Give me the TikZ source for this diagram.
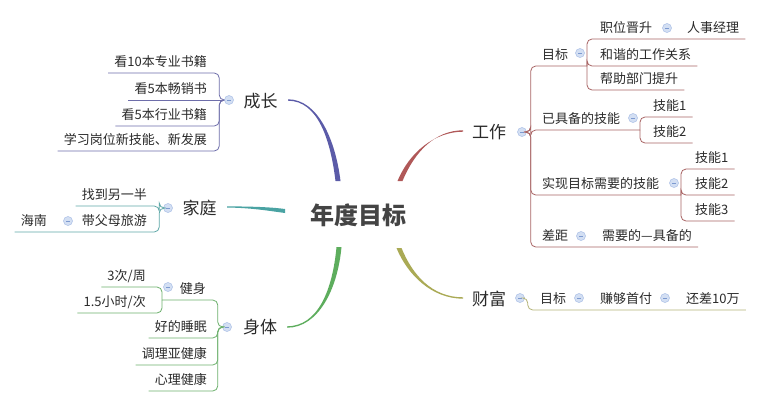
\documentclass[tikz,border=0pt]{standalone}
\usepackage{fontspec}
\setmainfont{Noto Sans CJK SC}
\definecolor{cP}{HTML}{5B5BA8}
\definecolor{cR}{HTML}{B05858}
\definecolor{cT}{HTML}{4AA3A3}
\definecolor{cG}{HTML}{5DAD5D}
\definecolor{cO}{HTML}{AAAA55}
\definecolor{lP}{HTML}{6E6EAA}
\definecolor{lR}{HTML}{A86464}
\definecolor{lT}{HTML}{5FA8A8}
\definecolor{lG}{HTML}{6CB06C}
\definecolor{lO}{HTML}{B4B478}
\definecolor{foldf}{HTML}{D3DFF3}
\definecolor{foldb}{HTML}{A9BFE6}
\definecolor{foldm}{HTML}{7D9AD0}
\definecolor{txt}{HTML}{2A2A2A}
\definecolor{rootc}{HTML}{444444}
\begin{document}
\begin{tikzpicture}[x=1pt,y=-1pt,
  leafL/.style={anchor=south east, inner xsep=6pt, inner ysep=0pt, text depth=6pt, font=\fontsize{13pt}{15pt}\selectfont, text=txt},
  leafR/.style={leafL, anchor=south west},
  topic/.style={anchor=base, inner sep=0pt, font=\fontsize{17pt}{20pt}\selectfont, text=txt},
  rootn/.style={anchor=base, inner sep=0pt, font=\fontsize{24pt}{28pt}\selectfont\bfseries, text=rootc},
  fold/.style={circle, draw=foldb, fill=foldf, line width=0.5pt, minimum size=9pt, inner sep=0pt,
    path picture={\draw[foldm, line width=0.9pt] (path picture bounding box.west) ++(2.5pt,0) -- ++(4pt,0);}},
  br/.style={line width=0.8pt, rounded corners=5pt},
]
\fill[white] (0,0) rectangle (763,407);
\useasboundingbox (0,0) rectangle (763,407);

% root and topics
\node[rootn] (root) at (358.5,224) {年度目标};
\node[topic] (cz) at (260.5,107.4) {成长};
\node[topic] (jt) at (199.5,214.4) {家庭};
\node[topic] (st) at (260,333.4) {身体};
\node[topic] (gz) at (489,138.4) {工作};
\node[topic] (cf) at (489,305.4) {财富};

% tapered main branches
\coordinate (czA) at (288,100);  \coordinate (czB) at (338,181);
\coordinate (gzA) at (463,131);  \coordinate (gzB) at (400,181);
\coordinate (jtA) at (227,207);  \coordinate (jtB) at (285,211);
\coordinate (stA) at (287,327);  \coordinate (stB) at (339,247);
\coordinate (cfA) at (463,298);  \coordinate (cfB) at (399,248);
\fill[cP] ([yshift=0.7pt]czA) .. controls (318,99.3) and (335.5,140) .. ([xshift=2.5pt]czB) -- ([xshift=-2.5pt]czB) .. controls (330.5,140) and (318,100.7) .. ([yshift=-0.7pt]czA) -- cycle;
\fill[cR] ([yshift=0.7pt]gzA) .. controls (435,130.3) and (414.5,152) .. ([xshift=2.5pt]gzB) -- ([xshift=-2.5pt]gzB) .. controls (409.5,152) and (435,131.7) .. ([yshift=-0.7pt]gzA) -- cycle;
\fill[cT] ([yshift=0.6pt]jtA) .. controls (250,206.4) and (270,207) .. ([yshift=2pt]jtB) -- ([yshift=-2pt]jtB) .. controls (270,211) and (250,207.6) .. ([yshift=-0.6pt]jtA) -- cycle;
\fill[cG] ([yshift=-0.7pt]stA) .. controls (318,327.7) and (337.5,290) .. ([xshift=2.5pt]stB) -- ([xshift=-2.5pt]stB) .. controls (332.5,290) and (318,326.3) .. ([yshift=0.7pt]stA) -- cycle;
\fill[cO] ([yshift=-0.7pt]cfA) .. controls (432,298.7) and (407.5,275) .. ([xshift=-2.5pt]cfB) -- ([xshift=2.5pt]cfB) .. controls (412.5,275) and (432,297.3) .. ([yshift=0.7pt]cfA) -- cycle;

% ---- 成长
\node[leafL] (g1) at (213,73) {看10本专业书籍};
\node[leafL] (g2) at (213,100) {看5本畅销书};
\node[leafL] (g3) at (213,126) {看5本行业书籍};
\node[leafL] (g4) at (213,151) {学习岗位新技能、新发展};
\node[fold] (ccz) at (229,100) {};
\foreach \n in {g1,g3,g4}{\draw[br,lP] (ccz.west) -- ++(-5,0) |- (\n.south west);}
\draw[br,lP] (ccz.west) -- (g2.south west);

% ---- 家庭
\node[leafL] (j1) at (153,206) {找到另一半};
\node[leafL] (j2) at (153,232) {带父母旅游};
\node[leafL] (hn) at (53,232) {海南};
\node[fold] (cjt) at (168,208) {};
\node[fold] (cj2) at (68,221) {};
\draw[br,lT] (cjt.west) -- ++(-4,0) |- (j1.south west);
\draw[br,lT] (cjt.west) -- ++(-4,0) |- (j2.south west) -- (hn.south west);

% ---- 身体
\node[leafL] (js) at (212,300) {健身};
\coordinate (jsb) at (162,300);
\node[leafL] (s1) at (152,287) {3次/周};
\node[leafL] (s2) at (152,313) {1.5小时/次};
\node[leafL] (t1) at (213,338) {好的睡眠};
\node[leafL] (t2) at (213,365) {调理亚健康};
\node[leafL] (t3) at (213,391) {心理健康};
\draw[br,lG] (jsb) |- (s1.south west);
\draw[br,lG] (jsb) |- (s2.south west);
\node[fold] (cst) at (227,327) {};
\node[fold] (cjs) at (168,287) {};
\draw[br,lG] (cst.west) -- ++(-4.5,0) |- (js.south west) -- (jsb);
\foreach \n in {t1,t2,t3}{\draw[br,lG] (cst.west) -- ++(-4.5,0) |- (\n.south west);}

% ---- 工作
\node[leafR] (w1) at (536,66) {目标};
\coordinate (w1b) at (587,66);
\node[leafR] (w11) at (594,39) {职位晋升};
\node[leafR] (w111) at (681,39) {人事经理};
\node[leafR] (w12) at (594,66) {和谐的工作关系};
\node[leafR] (w13) at (594,90) {帮助部门提升};
\node[leafR] (w2) at (536,130) {已具备的技能};
\coordinate (w2b) at (640,130);
\node[leafR] (w21) at (647,117) {技能1};
\node[leafR] (w22) at (647,143) {技能2};
\node[leafR] (w3) at (536,195) {实现目标需要的技能};
\coordinate (w3b) at (681,195);
\node[leafR] (w31) at (689,169) {技能1};
\node[leafR] (w32) at (689,195) {技能2};
\node[leafR] (w33) at (689,221) {技能3};
\node[leafR] (w4) at (536,247) {差距};
\node[leafR] (w41) at (596,247) {需要的—具备的};
\draw[br,lR] (w1b) |- (w11.south east) -- (w111.south east);
\draw[br,lR] (w1b) |- (w12.south east);
\draw[br,lR] (w1b) |- (w13.south east);
\draw[br,lR] (w2b) |- (w21.south east);
\draw[br,lR] (w2b) |- (w22.south east);
\draw[br,lR] (w3b) |- (w31.south east);
\draw[br,lR] (w3b) |- (w32.south east);
\draw[br,lR] (w3b) |- (w33.south east);
\node[fold] (cgz) at (522,132) {};
\draw[br,lR] (cgz.east) -- ++(4,0) |- (w1.south east) -- (w1b);
\draw[br,lR] (cgz.east) -- ++(4,0) |- (w2.south east) -- (w2b);
\draw[br,lR] (cgz.east) -- ++(4,0) |- (w3.south east) -- (w3b);
\draw[br,lR] (cgz.east) -- ++(4,0) |- (w4.south east) -- (w41.south east);
\node[fold] (cw1) at (580,53) {};
\node[fold] (cw11) at (667,28) {};
\node[fold] (cw2) at (633,118) {};
\node[fold] (cw3) at (674,183) {};
\node[fold] (cw4) at (581,236) {};

% ---- 财富
\node[leafR] (f1) at (534,310) {目标};
\node[leafR] (f2) at (594,310) {赚够首付};
\node[leafR] (f3) at (680,310) {还差10万};
\node[fold] (ccf) at (520,298) {};
\draw[br,lO] (ccf.east) -- ++(3,0) |- (f1.south east) -- (f2.south east) -- (f3.south east);
\node[fold] (cf1) at (579,298) {};
\node[fold] (cf2) at (665,298) {};
\end{tikzpicture}
\end{document}
